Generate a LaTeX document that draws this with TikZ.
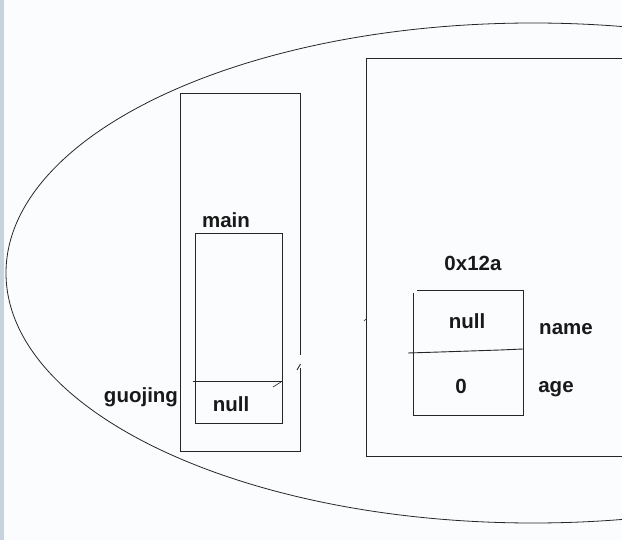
\documentclass[tikz,border=0pt]{standalone}
\usepackage{fontspec}
\setmainfont{Liberation Sans}
\definecolor{bgc}{RGB}{250,252,254}
\definecolor{stripc}{RGB}{200,210,222}
\begin{document}
\begin{tikzpicture}[x=1pt,y=-1pt,
  lbl/.style={font=\bfseries\fontsize{20.5}{24}\selectfont, text=black!90, inner sep=0pt},
  ln/.style={draw=black!85, line width=0.9pt}]
\useasboundingbox (0,0) rectangle (622,540);
\clip (0,0) rectangle (622,540);
\fill[bgc] (0,0) rectangle (622,540);
\fill[stripc] (0,0) rectangle (4,540);
% big ellipse
\draw[ln, line width=0.8pt] (533,273) ellipse [x radius=527, y radius=250];
% stack frame
\draw[ln] (300,355) -- (300,93) -- (180,93) -- (180,451) -- (300,451) -- (300,368);
\draw[ln] (297,370) -- (300.5,364);
% main frame
\draw[ln] (195,233) rectangle (282,423);
\draw[ln] (193,381) -- (282,381);
\draw[ln, line width=0.6pt] (273,387) -- (281,382);
% heap
\draw[ln] (640,58) -- (366,58) -- (366,456) -- (640,456);
\draw[ln, line width=0.6pt] (364,321) -- (366,319);
% object
\draw[ln] (417,290) -- (523,290) -- (523,415) -- (413,415) -- (413,293);
\draw[ln] (408,353) -- (440,352) -- (470,351) -- (500,350) -- (523,349);
% labels
\node[lbl] (main) at (226,220) {main};
\node[lbl] (guojing) at (141,397) {guojing};
\node[lbl] (snull) at (231,404) {null};
\node[lbl] (addr) at (473,263) {0x12a};
\node[lbl] (onull) at (467,321) {null};
\node[lbl] (zero) at (461,386) {0};
\node[lbl] (name) at (566,329) {name};
\node[lbl] (age) at (556,389) {age};
\end{tikzpicture}
\end{document}
